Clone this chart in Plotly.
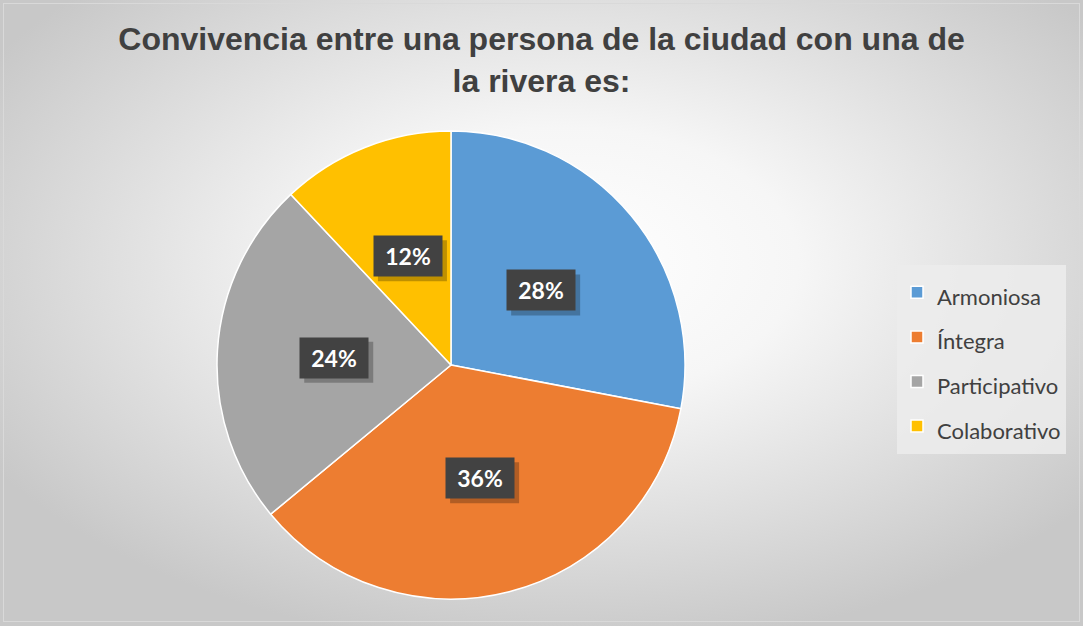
import base64
import math
import plotly.graph_objects as go

labels = ["Armoniosa", "Íntegra", "Participativo", "Colaborativo"]
values = [28, 36, 24, 12]
colors = ["#5B9BD5", "#ED7D31", "#A5A5A5", "#FFC000"]
title = "Convivencia entre una persona de la ciudad con una de<br>la rivera es:"

W, H = 1083, 626
cx, cy, rad = 451, 365, 234  # pie centre / radius in pixels

# radial gradient background (Excel style)
svg = f"""<svg xmlns='http://www.w3.org/2000/svg' width='{W}' height='{H}'>
<defs><radialGradient id='g' cx='0.52' cy='0.42' r='0.62' gradientUnits='objectBoundingBox'>
<stop offset='0' stop-color='#ffffff'/><stop offset='0.35' stop-color='#f6f6f6'/>
<stop offset='1' stop-color='#c8c8c8'/></radialGradient></defs>
<rect width='{W}' height='{H}' fill='url(#g)'/>
<rect x='3.5' y='3.5' width='{W-7}' height='{H-8}' fill='none' stroke='#d9d9d9' stroke-width='1'/>
</svg>"""
bg = "data:image/svg+xml;base64," + base64.b64encode(svg.encode()).decode()

dom_x = [(cx - rad) / W, (cx + rad) / W]
dom_y = [(H - cy - rad) / H, (H - cy + rad) / H]

fig = go.Figure(go.Pie(
    labels=[f"<span style='font-size:22px'>{l}</span>" for l in labels],
    values=values,
    marker=dict(colors=colors, line=dict(color="white", width=1.5)),
    sort=False, direction="clockwise", rotation=0,
    textinfo="none", hoverinfo="label+percent",
    domain=dict(x=dom_x, y=dom_y),
))

# data labels in dark boxes at half radius of each slice's mid angle
total = sum(values)
acc = 0
for v in values:
    mid = (acc + v / 2) / total * 2 * math.pi
    acc += v
    lx = (cx + 0.5 * rad * math.sin(mid)) / W
    ly = 1 - (cy - 0.5 * rad * math.cos(mid)) / H
    pct = f"{round(v / total * 100)}%"
    # soft shadow behind the box
    fig.add_shape(type="rect", xref="paper", yref="paper", xsizemode="pixel", ysizemode="pixel",
                  xanchor=lx, yanchor=ly, x0=-30, x1=39, y0=-25, y1=16,
                  fillcolor="rgba(0,0,0,0.25)", line_width=0, layer="above")
    fig.add_annotation(text=f"<b>{pct}</b>", xref="paper", yref="paper", x=lx, y=ly,
                       showarrow=False, bgcolor="#424242", borderpad=6, width=56,
                       xanchor="center", yanchor="middle",
                       font=dict(family="Lato", size=23, color="white"))

fig.update_layout(
    width=W, height=H,
    margin=dict(l=0, r=0, t=0, b=0),
    paper_bgcolor="#e6e6e6",
    title=dict(text=title, x=0.5, xanchor="center", y=1 - 50 / H, yanchor="top",
               font=dict(family="Liberation Sans", size=32, color="#404040", weight="bold")),
    legend=dict(x=897 / W, y=1 - 265 / H, xanchor="left", yanchor="top",
                bgcolor="rgba(236,236,236,0.85)",
                font=dict(family="Lato", size=32, color="#404040")),
    images=[dict(source=bg, xref="paper", yref="paper", x=0, y=1, sizex=1, sizey=1,
                 sizing="stretch", layer="below")],
)

fig.write_html("out.html", config={"displayModeBar": False},
               post_script="document.body.style.margin='0';")
